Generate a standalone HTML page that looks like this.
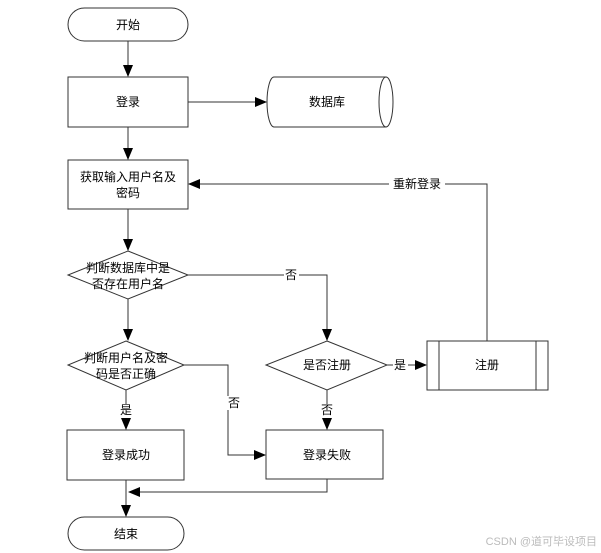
<!DOCTYPE html>
<html><head><meta charset="utf-8"><style>
html,body{margin:0;padding:0;background:#fff;}
svg{display:block;}
text{font-family:"Liberation Sans","Noto Sans CJK SC",sans-serif;font-size:12px;fill:#000;}
</style></head><body>
<svg width="601" height="553" viewBox="0 0 601 553" xmlns="http://www.w3.org/2000/svg">
<defs><marker id="a" markerWidth="12" markerHeight="10" refX="11" refY="5" orient="auto" markerUnits="userSpaceOnUse"><path d="M0,0 L12,5 L0,10 z" fill="#000"/></marker></defs>
<g fill="#fff" stroke="#333" stroke-width="1">
<rect x="68" y="8" width="120" height="33" rx="16.5"/>
<rect x="68" y="77" width="120" height="50"/>
<path d="M274,77 L386,77 A7,25 0 0 1 386,127 L274,127 A7,25 0 0 1 274,77 z"/>
<path d="M386,77 A7,25 0 0 0 386,127"/>
<rect x="68" y="160" width="120" height="49"/>
<polygon points="128,251 188,275 128,299 68,275"/>
<polygon points="126,341 184,365 126,390 68,365"/>
<polygon points="327,341 387,365 327,390 266,365"/>
<rect x="427" y="341" width="121" height="49"/>
<line x1="439" y1="341" x2="439" y2="390"/><line x1="536" y1="341" x2="536" y2="390"/>
<rect x="67" y="430" width="117" height="50"/>
<rect x="266" y="430" width="117" height="49"/>
<rect x="68" y="517" width="116" height="33" rx="16.5"/>
</g>
<g fill="none" stroke="#333" stroke-width="1">
<line x1="128" y1="41" x2="128" y2="76" marker-end="url(#a)"/>
<line x1="188" y1="102" x2="266" y2="102" marker-end="url(#a)"/>
<line x1="128" y1="127" x2="128" y2="159" marker-end="url(#a)"/>
<line x1="128" y1="209" x2="128" y2="250" marker-end="url(#a)"/>
<line x1="128" y1="299" x2="128" y2="340" marker-end="url(#a)"/>
<line x1="126" y1="390" x2="126" y2="429" marker-end="url(#a)"/>
<polyline points="188,275 327,275 327,340" marker-end="url(#a)"/>
<line x1="327" y1="390" x2="327" y2="429" marker-end="url(#a)"/>
<line x1="387" y1="365" x2="426" y2="365" marker-end="url(#a)"/>
<polyline points="487,341 487,184 189,184" marker-end="url(#a)"/>
<polyline points="184,365 228,365 228,455 265,455" marker-end="url(#a)"/>
<polyline points="327,479 327,492 129,492" marker-end="url(#a)"/>
<line x1="126" y1="480" x2="126" y2="516" marker-end="url(#a)"/>
</g>
<g text-anchor="middle">
<text x="128" y="29">开始</text>
<text x="128" y="106">登录</text>
<text x="327" y="106">数据库</text>
<text x="128" y="181">获取输入用户名及</text>
<text x="128" y="197">密码</text>
<text x="128" y="272">判断数据库中是</text>
<text x="128" y="288">否存在用户名</text>
<text x="126" y="362">判断用户名及密</text>
<text x="126" y="378">码是否正确</text>
<text x="327" y="369">是否注册</text>
<text x="487" y="369" font-size="11">注册</text>
<text x="126" y="459">登录成功</text>
<text x="327" y="459">登录失败</text>
<text x="126" y="538">结束</text>
<rect x="389" y="177" width="56" height="14" fill="#fff"/>
<text x="417" y="188">重新登录</text>
<rect x="284" y="268" width="15" height="14" fill="#fff"/>
<text x="291" y="279">否</text>
<rect x="393" y="358" width="15" height="14" fill="#fff"/>
<text x="400" y="369">是</text>
<rect x="227" y="396" width="15" height="14" fill="#fff"/>
<text x="234" y="407">否</text>
<rect x="119" y="404" width="15" height="14" fill="#fff"/>
<text x="126" y="414">是</text>
<rect x="320" y="404" width="15" height="14" fill="#fff"/>
<text x="327" y="414">否</text>
</g>
<text x="597" y="545" text-anchor="end" style="font-size:11px;fill:#bbb">CSDN @道可毕设项目</text>
</svg>
</body></html>
